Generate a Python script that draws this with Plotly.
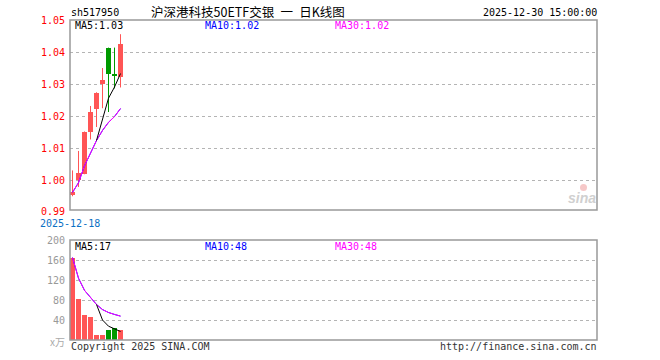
import plotly.graph_objects as go

# ---------------- data ----------------
dates = ["2025-12-18", "2025-12-19", "2025-12-22", "2025-12-23", "2025-12-24",
         "2025-12-25", "2025-12-26", "2025-12-29", "2025-12-30"]
opens  = [0.9954, 1.0000, 1.0021, 1.0151, 1.0223, 1.0302, 1.0416, 1.0334, 1.0325]
closes = [0.9962, 1.0023, 1.0151, 1.0215, 1.0273, 1.0314, 1.0334, 1.0326, 1.0426]
highs  = [1.0031, 1.0092, 1.0153, 1.0233, 1.0276, 1.0352, 1.0416, 1.0416, 1.0458]
lows   = [0.9950, 0.9979, 1.0019, 1.0128, 1.0167, 1.0226, 1.0214, 1.0288, 1.0291]
volumes = [165, 82, 51, 47, 10, 10, 20, 24, 21]  # 万

price_ticks = [1.05, 1.04, 1.03, 1.02, 1.01, 1.00, 0.99]
price_grid = [1.04, 1.03, 1.02, 1.01, 1.00]
vol_ticks = [200, 160, 120, 80, 40]
vol_grid = [160, 120, 80, 40]

title_text = "沪深港科技50ETF交银\u2002一\u2002日K线图"
code_text = "sh517950"
time_text = "2025-12-30 15:00:00"

# ---------------- helpers ----------------
W, H = 660, 360
def px(x):
    return x / W
def py(y):
    return 1 - y / H

RED = "#ff5555"
GREEN = "#009a00"
n = len(closes)
idx = list(range(n))
up = [c >= o for o, c in zip(opens, closes)]
colors = [RED if u else GREEN for u in up]

def ma(vals, k, cumulative_start=False):
    out = []
    for i in range(len(vals)):
        if i + 1 >= k:
            out.append(sum(vals[i + 1 - k:i + 1]) / k)
        elif cumulative_start:
            out.append(sum(vals[:i + 1]) / (i + 1))
        else:
            out.append(None)
    return out

p_ma5 = ma(closes, 5)
p_ma10 = ma(closes, 10, True)
p_ma30 = ma(closes, 30, True)
v_ma5 = ma(volumes, 5)
v_ma10 = ma(volumes, 10, True)
v_ma30 = ma(volumes, 30, True)

fig = go.Figure()

# wicks
for col in (RED, GREEN):
    wx, wy = [], []
    for i in idx:
        if colors[i] == col:
            wx += [i, i, None]
            wy += [lows[i], highs[i], None]
    fig.add_trace(go.Scatter(x=wx, y=wy, mode="lines", line=dict(color=col, width=1),
                             xaxis="x", yaxis="y", hoverinfo="skip"))

# bodies
fig.add_trace(go.Bar(x=idx, y=[c - o for o, c in zip(opens, closes)], base=opens,
                     width=0.8, marker=dict(color=colors, line=dict(width=0)),
                     xaxis="x", yaxis="y"))

# price MAs
fig.add_trace(go.Scatter(x=idx, y=p_ma10, mode="lines", line=dict(color="#0000ff", width=1), xaxis="x", yaxis="y"))
fig.add_trace(go.Scatter(x=idx, y=p_ma30, mode="lines", line=dict(color="#ff00ff", width=1), xaxis="x", yaxis="y"))
fig.add_trace(go.Scatter(x=idx, y=p_ma5, mode="lines", line=dict(color="#000000", width=1), xaxis="x", yaxis="y"))

# volume
fig.add_trace(go.Bar(x=idx, y=volumes, width=0.8, marker=dict(color=colors, line=dict(width=0)),
                     xaxis="x2", yaxis="y2"))
fig.add_trace(go.Scatter(x=idx, y=v_ma10, mode="lines", line=dict(color="#0000ff", width=1), xaxis="x2", yaxis="y2"))
fig.add_trace(go.Scatter(x=idx, y=v_ma30, mode="lines", line=dict(color="#ff00ff", width=1), xaxis="x2", yaxis="y2"))
fig.add_trace(go.Scatter(x=idx, y=v_ma5, mode="lines", line=dict(color="#000000", width=1), xaxis="x2", yaxis="y2"))

# ---------------- axes ----------------
PX0, PX1 = 70, 597
slot = 6.0
first_c = 72.5
xr = [(PX0 - first_c) / slot, (PX1 - first_c) / slot]

P_TOP, P_BOT = 20, 210
V_TOP, V_BOT = 240, 340
ppu = 3190.0
yr = [1.00 - (P_BOT - 180.3) / ppu, 1.04 + (52.7 - P_TOP) / ppu]

def price_px(v):
    return P_BOT - (v - yr[0]) / (yr[1] - yr[0]) * (P_BOT - P_TOP)

def vol_px(v):
    return V_BOT - v / 200.0 * (V_BOT - V_TOP)

common_x = dict(range=xr, showgrid=False, showticklabels=False, zeroline=False,
                showline=False, ticks="", fixedrange=True)
fig.update_layout(
    xaxis=dict(domain=[px(PX0), px(PX1)], anchor="y", **common_x),
    xaxis2=dict(domain=[px(PX0), px(PX1)], anchor="y2", **common_x),
    yaxis=dict(domain=[py(P_BOT), py(P_TOP)], range=yr, tickmode="array", tickvals=price_grid,
               showticklabels=False, showgrid=True, gridcolor="#b4b4b4", griddash="dot",
               gridwidth=1, zeroline=False, showline=False, ticks=""),
    yaxis2=dict(domain=[py(V_BOT), py(V_TOP)], range=[0, 200], tickmode="array", tickvals=vol_grid,
                showticklabels=False, showgrid=True, gridcolor="#b4b4b4", griddash="dot",
                gridwidth=1, zeroline=False, showline=False, ticks=""),
    width=W, height=H, margin=dict(l=0, r=0, t=0, b=0),
    paper_bgcolor="white", plot_bgcolor="white", showlegend=False, bargap=0,
)

MONO = "DejaVu Sans Mono"
ann = []
def text(x, y, s, color="#000", size=10, xanchor="left", family=MONO, **kw):
    ann.append(dict(x=px(x), y=py(y), xref="paper", yref="paper", text=s, showarrow=False,
                    xanchor=xanchor, yanchor="middle", borderpad=0,
                    font=dict(family=family, size=size, color=color), **kw))

# headers
text(70, 13, code_text)
text(150, 12, title_text, size=12.5, family="Noto Sans CJK SC")
text(598, 13, time_text, xanchor="right")

# MA labels
text(74, 26, "MA5:%.2f" % p_ma5[-1])
text(204, 26, "MA10:%.2f" % p_ma10[-1], color="#0000ff")
text(334, 26, "MA30:%.2f" % p_ma30[-1], color="#ff00ff")
text(74, 246, "MA5:%d" % round(v_ma5[-1]))
text(204, 246, "MA10:%d" % round(v_ma10[-1]), color="#0000ff")
text(334, 246, "MA30:%d" % round(v_ma30[-1]), color="#ff00ff")

# price labels
for v in price_ticks:
    yy = price_px(v)
    if v == price_ticks[-1]:
        yy -= 1
    text(66, yy, "%.2f" % v, color="#ff0000", xanchor="right")
for v in vol_ticks:
    text(66, vol_px(v), str(v), color="#999999", xanchor="right")
text(66, 341, "x万", color="#aaaaaa", xanchor="right", family="Noto Sans CJK SC")

# first date label
text(70, 223, dates[0], color="#0a70c4", xanchor="center")

# footer
text(70, 346, "Copyright 2025 SINA.COM", color="#333333")
text(598, 346, "http://finance.sina.com.cn", color="#333333", xanchor="right")

# watermark
text(582, 198, "<b><i>sina</i></b>", color="#d0d0d0", size=14, xanchor="center", family="Liberation Sans")

fig.update_layout(annotations=ann)

# frames + watermark eye
shapes = []
for top, bot in ((P_TOP, P_BOT), (V_TOP, V_BOT)):
    shapes.append(dict(type="rect", xref="paper", yref="paper", x0=px(PX0), x1=px(PX1),
                       y0=py(bot), y1=py(top), line=dict(color="#999999", width=1.5)))
shapes.append(dict(type="circle", xref="paper", yref="paper", x0=px(580), x1=px(587),
                   y0=py(191), y1=py(184), fillcolor="#f6c8c8", line=dict(width=0)))
fig.update_layout(shapes=shapes)

fig.write_html("out.html")
